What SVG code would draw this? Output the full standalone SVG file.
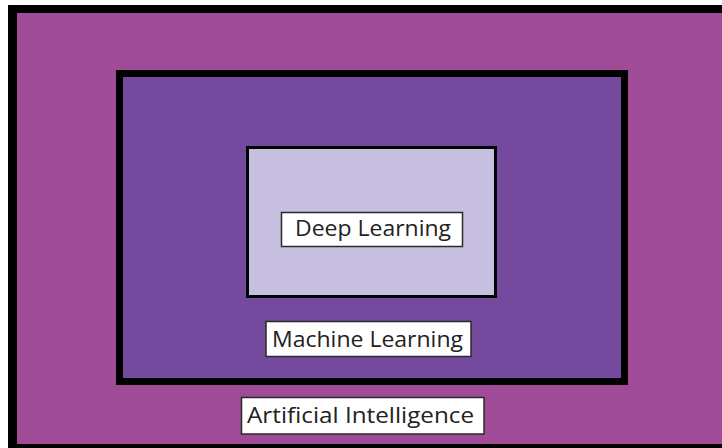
<svg xmlns="http://www.w3.org/2000/svg" width="722" height="448" viewBox="0 0 722 448">
<style>
.lbl{fill:#ffffff;stroke:#2a2a2a;stroke-width:1.5}
.txt{font-family:"Open Sans","Liberation Sans",Arial,sans-serif;font-size:22px;fill:#222222}
</style>
<rect x="0" y="0" width="722" height="448" fill="#ffffff"/>
<g id="ai">
<rect x="8" y="5" width="714" height="443" fill="#000000"/>
<rect x="17" y="13" width="705" height="431" fill="#a04b98"/>
</g>
<g id="ml">
<rect x="119.5" y="73.5" width="505" height="308" fill="#744a9e" stroke="#000" stroke-width="7"/>
</g>
<g id="dl">
<rect x="247.5" y="147.5" width="248" height="149" fill="#c7bfdf" stroke="#000" stroke-width="3"/>
</g>
<g id="dl-label">
<rect class="lbl" x="281.5" y="212.5" width="181" height="34"/>
<text class="txt" x="295" y="236" textLength="156" lengthAdjust="spacingAndGlyphs">Deep Learning</text>
</g>
<g id="ml-label">
<rect class="lbl" x="266" y="321.5" width="205" height="35"/>
<text class="txt" x="272" y="347" textLength="191" lengthAdjust="spacingAndGlyphs">Machine Learning</text>
</g>
<g id="ai-label">
<rect class="lbl" x="241.5" y="397.5" width="242.5" height="36.5"/>
<text class="txt" x="247" y="423" textLength="227" lengthAdjust="spacingAndGlyphs">Artificial Intelligence</text>
</g>
<g id="connectors"/>
</svg>
